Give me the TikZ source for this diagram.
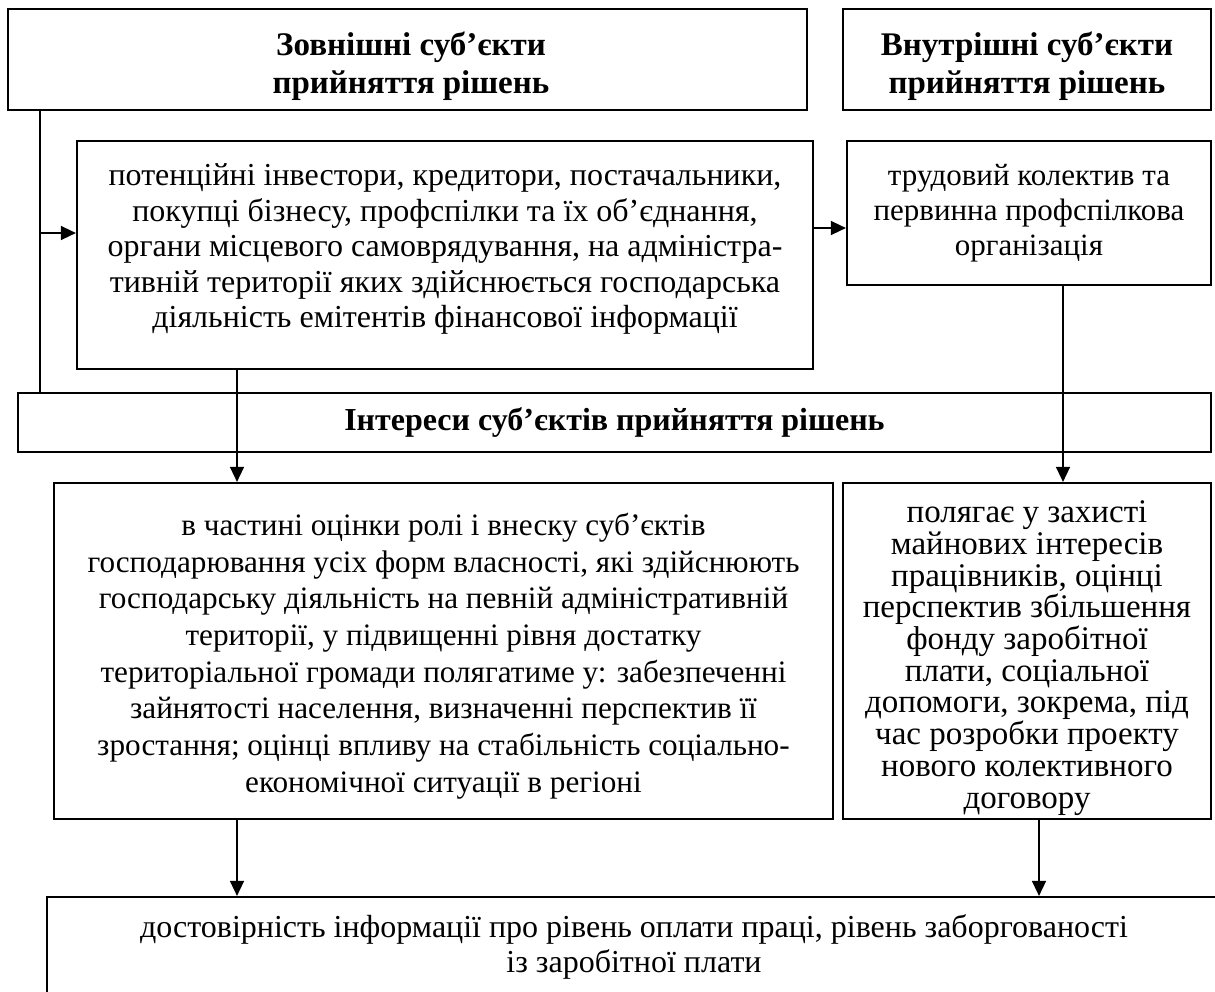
\documentclass[tikz,border=0pt]{standalone}
\usepackage{fontspec}
\setmainfont{Liberation Serif}
\usetikzlibrary{arrows.meta}
\begin{document}
\begin{tikzpicture}[x=1pt,y=-1pt,
  box/.style={draw,line width=2.2pt,inner sep=0pt,align=center,
    font={\fontsize{32}{35.5}\selectfont}},
  txt/.style={inner sep=0pt,align=center,font={\fontsize{32}{35.5}\selectfont}},
  htxt/.style={txt,font={\fontsize{33}{38}\selectfont\bfseries}},
  conn/.style={line width=1.5pt},
  arr/.style={conn,-{Triangle[length=15pt,width=14pt]}}]
\useasboundingbox (0,0) rectangle (1215,991);
\clip (0,0) rectangle (1215,991);
\node[box,minimum width=799pt,minimum height=101pt] (ext) at (407.5,59.5) {};
\node[htxt] (extT) at (411,66) {Зовнішні суб’єкти\\прийняття рішень};
\node[box,minimum width=368pt,minimum height=101pt] (int) at (1027,59.5) {};
\node[htxt] (intT) at (1027,66) {Внутрішні суб’єкти\\прийняття рішень};
\node[box,minimum width=736pt,minimum height=228pt] (pot) at (445,255) {};
\node[txt] (potT) at (445,249)
  {потенційні інвестори, кредитори, постачальники,\\
   покупці бізнесу, профспілки та їх об’єднання,\\
   органи місцевого самоврядування, на адміністра-\\
   тивній території яких здійснюється господарська\\
   діяльність емітентів фінансової інформації};
\node[box,font={\fontsize{31}{35}\selectfont},minimum width=364pt,minimum height=144pt] (trud) at (1029,213)
  {трудовий колектив та\\первинна профспілкова\\організація};
\node[box,font={\fontsize{32}{35}\selectfont\bfseries},minimum width=1193pt,minimum height=59pt] (inter) at (614.5,422.5)
  {Інтереси суб’єктів прийняття рішень};
\node[box,minimum width=779pt,minimum height=336pt] (loc) at (443.5,651) {};
\node[txt,font={\fontsize{31.2}{36.7}\selectfont}] (locT) at (443.5,656)
  {в частині оцінки ролі і внеску суб’єктів\\
   господарювання усіх форм власності, які здійснюють\\
   господарську діяльність на певній адміністративній\\
   території, у підвищенні рівня достатку\\
   територіальної громади полягатиме у: забезпеченні\\
   зайнятості населення, визначенні перспектив її\\
   зростання; оцінці впливу на стабільність соціально-\\
   економічної ситуації в регіоні};
\node[box,minimum width=368pt,minimum height=336pt] (prot) at (1027,651) {};
\node[txt,font={\fontsize{33}{31.7}\selectfont}] (protT) at (1027,658)
  {полягає у захисті\\майнових інтересів\\працівників, оцінці\\перспектив збільшення\\фонду заробітної\\плати, соціальної\\допомоги, зокрема, під\\час розробки проекту\\нового колективного\\договору};
\node[box,minimum width=1174pt,minimum height=100pt] (rel) at (634,947)
  {достовірність інформації про рівень оплати праці, рівень заборгованості\\
   із заробітної плати};
\coordinate (sp) at (40,0);
\coordinate (a1) at (40,233);
\coordinate (a2) at (0,228);
\coordinate (c1) at (237,0);
\coordinate (c2) at (1063,0);
\coordinate (c3) at (1039,0);
\draw[conn] (ext.south -| sp) -- (inter.north -| sp);
\draw[arr] (a1) -- (a1 -| pot.west);
\draw[arr] (pot.east |- a2) -- (trud.west |- a2);
\draw[arr] (pot.south -| c1) -- (loc.north -| c1);
\draw[arr] (trud.south -| c2) -- (prot.north -| c2);
\draw[arr] (loc.south -| c1) -- (rel.north -| c1);
\draw[arr] (prot.south -| c3) -- (rel.north -| c3);
\end{tikzpicture}
\end{document}
